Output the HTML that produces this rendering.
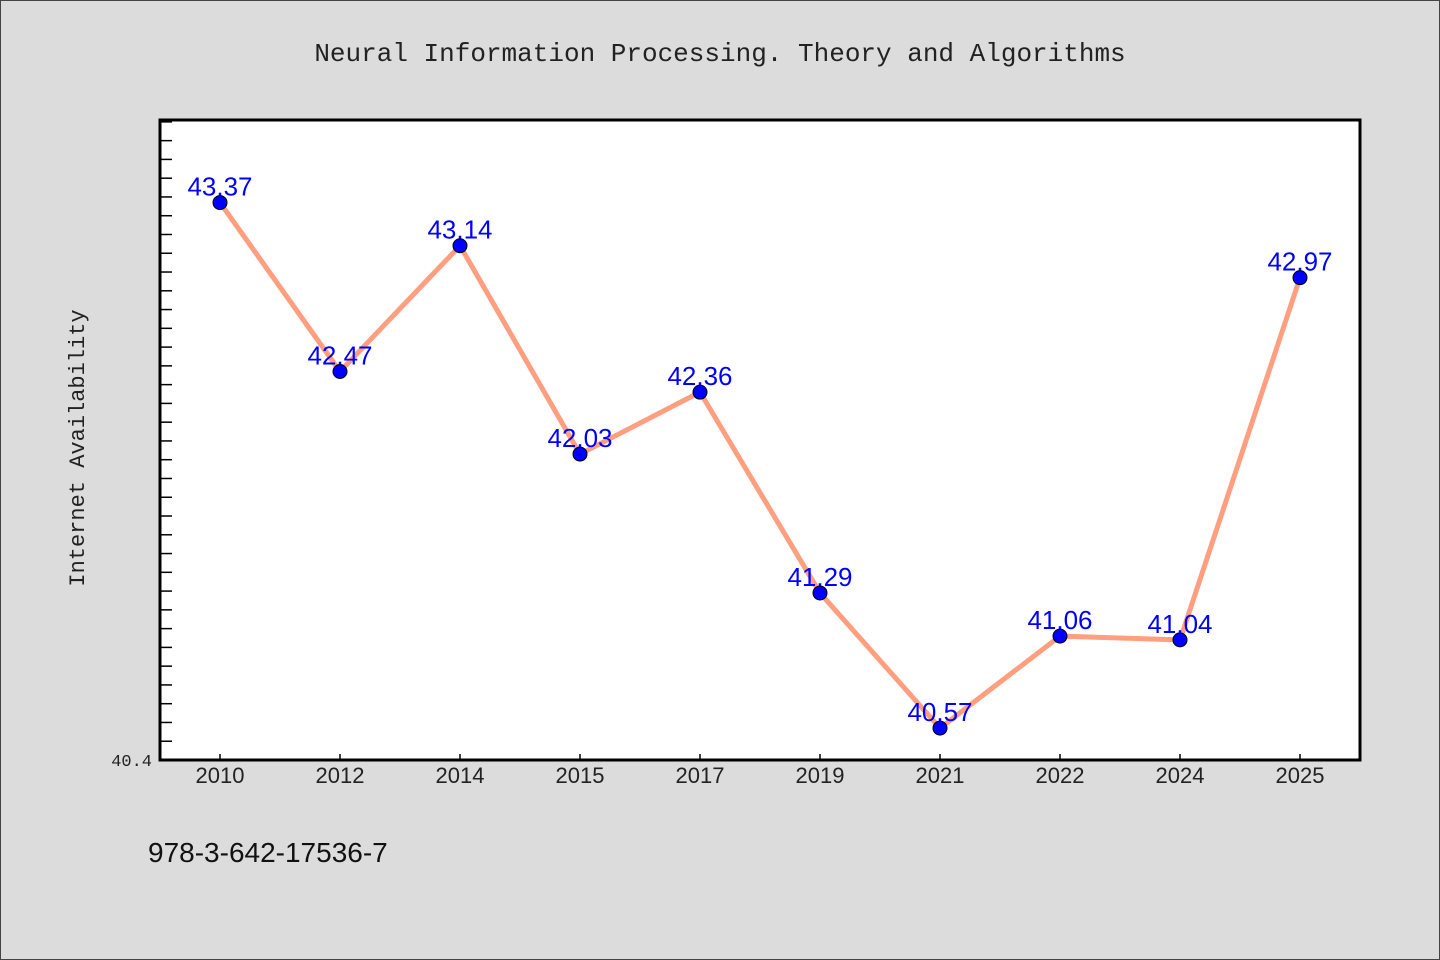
<!DOCTYPE html>
<html><head><meta charset="utf-8"><style>
body{margin:0;background:#dcdcdc;}
svg{display:block;font-family:"Liberation Mono","Noto Sans CJK SC",monospace;}
</style></head><body>
<svg id="chart" width="1440" height="960">
<rect x="0.5" y="0.5" width="1439" height="959" fill="#dcdcdc" stroke="#444"/>
<text x="720" y="61" text-anchor="middle" font-size="26" fill="#222">Neural Information Processing. Theory and Algorithms</text>
<rect x="160" y="120" width="1200" height="640" fill="#fff"/>
<g id="ticks"></g>
<g id="series"></g>
<rect x="160" y="120" width="1200" height="640" fill="none" stroke="#000" stroke-width="3"/>
<text x="84" y="448" transform="rotate(-90 84 448)" text-anchor="middle" font-size="22" fill="#222">Internet Availability</text>
<text x="152" y="766" text-anchor="end" font-size="17" fill="#222">40.4</text>
<text x="148" y="862" font-family="Liberation Sans, sans-serif" font-size="28" fill="#111">978-3-642-17536-7</text>
</svg>
<script>
const categories=["2010","2012","2014","2015","2017","2019","2021","2022","2024","2025"];
const values=[43.37,42.47,43.14,42.03,42.36,41.29,40.57,41.06,41.04,42.97];
const yMin=40.4,yMax=43.81;
const NS="http://www.w3.org/2000/svg";
function xs(i){return 220+i*120;}
function ys(v){return 760-(v-yMin)*(640/(yMax-yMin));}
function mk(t,a,p){const e=document.createElementNS(NS,t);for(const k in a)e.setAttribute(k,a[k]);p.appendChild(e);return e;}
const tk=document.getElementById('ticks'),sr=document.getElementById('series');
for(let v=yMin+0.1;v<yMax;v+=0.1){
 const l=mk('line',{x1:160,x2:172,y1:ys(v),y2:ys(v),stroke:'#000','stroke-width':1.5},tk);
 
 
}
categories.forEach((c,i)=>{
 const l=mk('line',{x1:xs(i),x2:xs(i),y1:760,y2:754,stroke:'#000','stroke-width':1.5},tk);
 
 
 const t=mk('text',{x:xs(i),y:783,'text-anchor':'middle','font-size':22,fill:'#222','font-family':'Liberation Sans, sans-serif'},tk);
 t.textContent=c;
 
 
});
const pl=mk('polyline',{points:values.map((v,i)=>xs(i)+','+ys(v)).join(' '),fill:'none',stroke:'#ff9f7f','stroke-width':5,'stroke-linejoin':'round'},sr);


values.forEach((v,i)=>{
 const c=mk('circle',{cx:xs(i),cy:ys(v),r:7,fill:'#0000ff',stroke:'#000','stroke-width':1},sr);
 
 
 const t=mk('text',{x:xs(i),y:ys(v)-7,'text-anchor':'middle','font-size':26,fill:'#0000ff','font-family':'Liberation Sans, sans-serif'},sr);
 t.textContent=v.toFixed(2);
 
 
});
</script>
</body></html>
